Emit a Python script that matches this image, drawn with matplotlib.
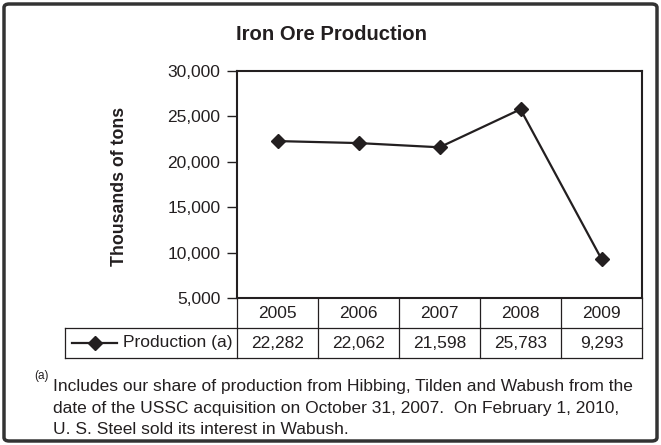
import matplotlib
matplotlib.use('Agg')
import matplotlib.pyplot as plt
from matplotlib.patches import FancyBboxPatch
from matplotlib.ticker import FuncFormatter

plt.rcParams['font.family'] = ['Liberation Sans', 'DejaVu Sans']

# data
years = ['2005', '2006', '2007', '2008', '2009']
production = [22282, 22062, 21598, 25783, 9293]
series_label = 'Production (a)'
title = 'Iron Ore Production'
ylabel = 'Thousands of tons'
footnote = ('Includes our share of production from Hibbing, Tilden and Wabush from the\n'
            'date of the USSC acquisition on October 31, 2007.  On February 1, 2010,\n'
            'U. S. Steel sold its interest in Wabush.')

ink = '#231f20'

fig = plt.figure(figsize=(6.61, 4.45), dpi=100)
ax = fig.add_axes([237 / 661, 1 - 298 / 445, 405 / 661, 227 / 445])

x = list(range(len(years)))
ax.plot(x, production, color=ink, lw=1.6, marker='D', ms=7, mfc=ink, mec=ink)

ax.set_xlim(-0.5, len(years) - 0.5)
ax.set_ylim(5000, 30000)
ax.set_yticks(range(5000, 30001, 5000))
ax.yaxis.set_major_formatter(FuncFormatter(lambda v, p: '{:,.0f}'.format(v)))
ax.set_xticks([])
ax.tick_params(axis='y', direction='out', length=7, width=1, colors=ink,
               labelsize=12.5, pad=5)
for s in ax.spines.values():
    s.set_color(ink)
    s.set_linewidth(1.5)

# data table under the axes
row_h = 30 / 227
label_left = -0.5 - 172 / 81
tr = ax.get_xaxis_transform()
lkw = dict(color=ink, lw=0.9, transform=tr, clip_on=False)
# horizontal lines
ax.plot([label_left, len(years) - 0.5], [-row_h, -row_h], **lkw)
ax.plot([label_left, len(years) - 0.5], [-2 * row_h, -2 * row_h], **lkw)
# vertical lines
for i in range(len(years) + 1):
    ax.plot([i - 0.5, i - 0.5], [0, -2 * row_h], **lkw)
ax.plot([label_left, label_left], [-row_h, -2 * row_h], **lkw)

for i, (yr, val) in enumerate(zip(years, production)):
    ax.text(i, -0.5 * row_h, yr, transform=tr, ha='center', va='center',
            fontsize=12.5, color=ink, clip_on=False)
    ax.text(i, -1.5 * row_h, '{:,}'.format(val), transform=tr, ha='center',
            va='center', fontsize=12.5, color=ink, clip_on=False)

# legend key in row label cell
ax.plot([label_left + 0.09, label_left + 0.645], [-1.5 * row_h] * 2, color=ink,
        lw=1.6, transform=tr, clip_on=False)
ax.plot([label_left + 0.37], [-1.5 * row_h], marker='D', ms=7, color=ink,
        transform=tr, clip_on=False)
ax.text(-0.5 - 0.06, -1.5 * row_h, series_label, transform=tr, ha='right',
        va='center', fontsize=12.5, color=ink, clip_on=False)

fig.text(332 / 661, 1 - 35 / 445, title, ha='center', va='center',
         fontsize=14.6, fontweight='bold', color=ink)
fig.text(120 / 661, 1 - 186 / 445, ylabel, rotation=90, ha='center',
         va='center', fontsize=12.8, fontweight='bold', color=ink)

fig.text(34 / 661, 1 - 376 / 445, '(a)', fontsize=8.5, color=ink, va='center')
fig.text(53 / 661, 1 - 408 / 445, footnote, fontsize=12.5, color=ink,
         va='center', ha='left', linespacing=1.55)

border = FancyBboxPatch((4 / 661, 4 / 445), 653 / 661, 437 / 445,
                        boxstyle='round,pad=0,rounding_size=0.008',
                        transform=fig.transFigure, fill=False,
                        ec='#333333', lw=2.5)
fig.patches.append(border)

fig.savefig('out.png', dpi=100)
